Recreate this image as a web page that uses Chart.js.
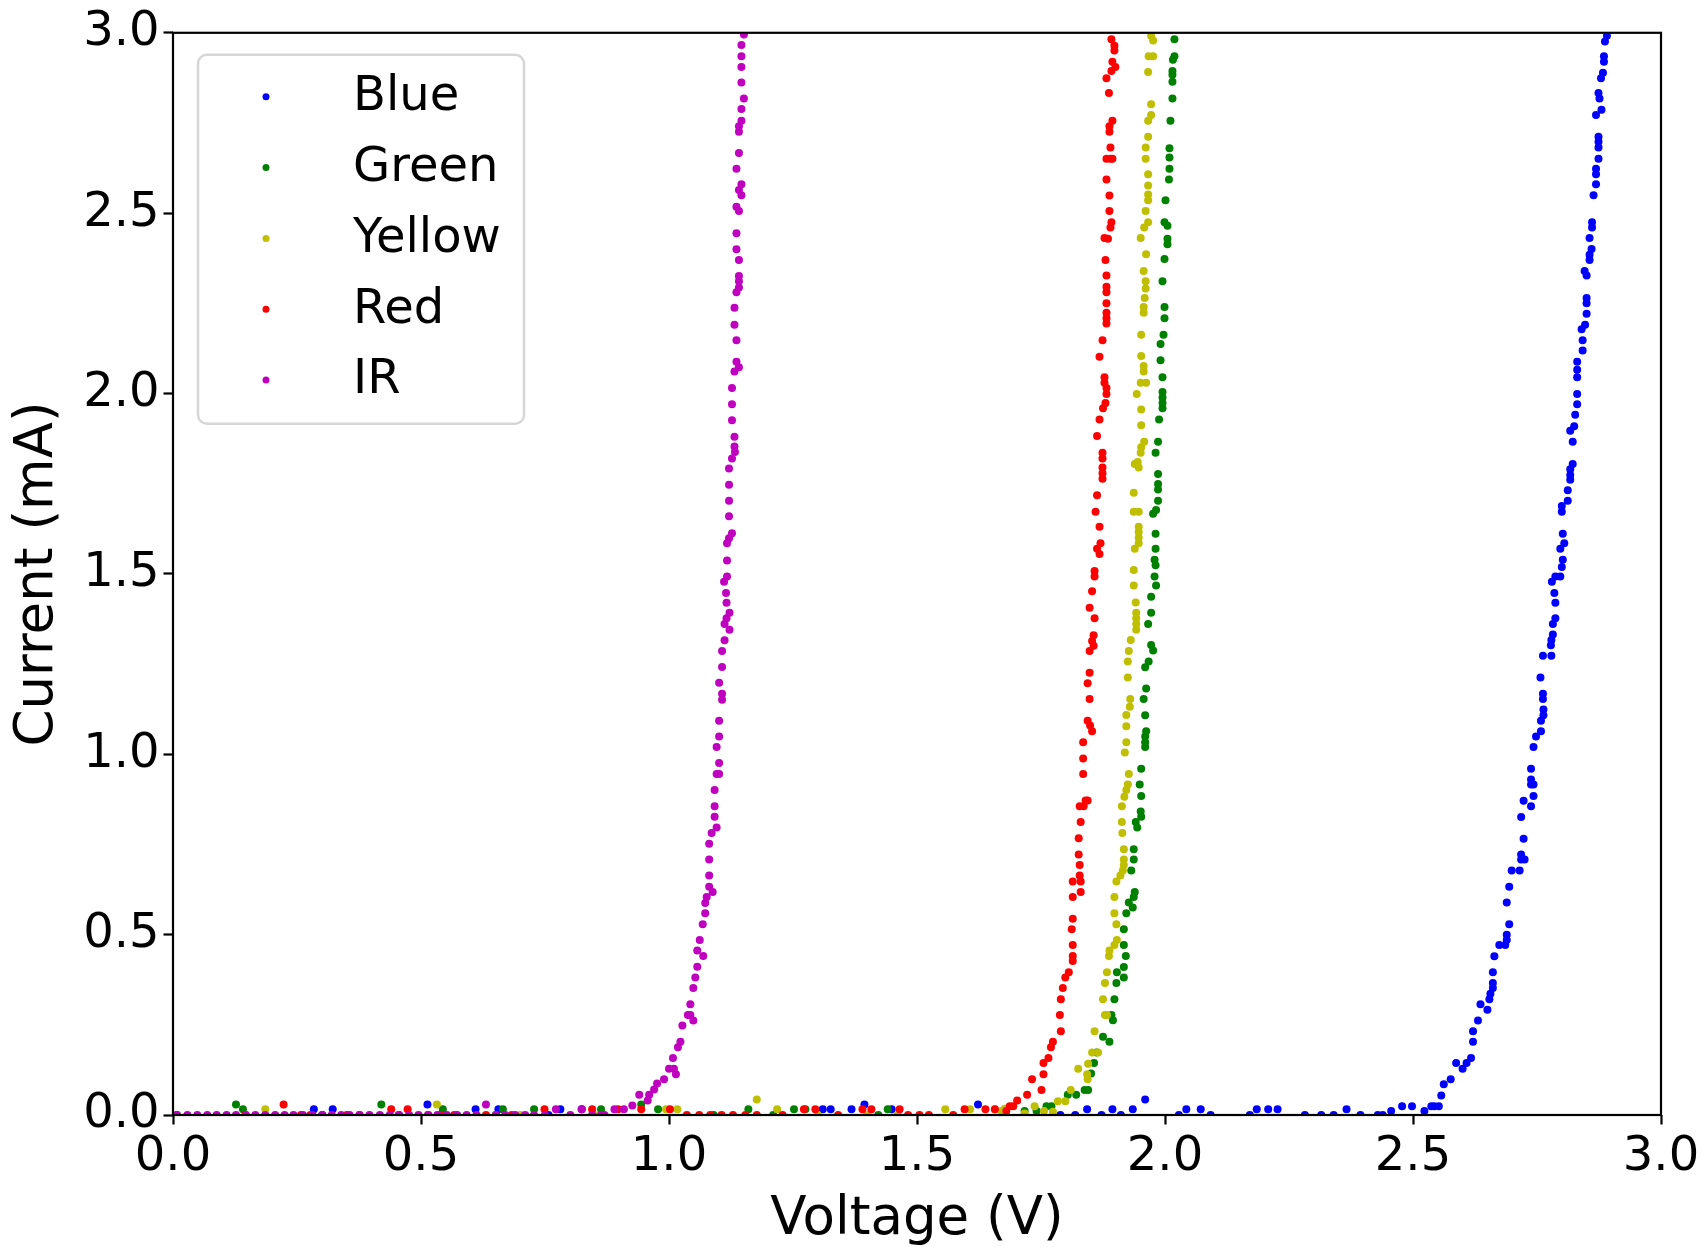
<!DOCTYPE html>
<html>
<head>
<meta charset="utf-8">
<script src="https://cdn.jsdelivr.net/npm/chart.js@4.4.1/dist/chart.umd.min.js"></script>
<style>
  html, body { margin: 0; padding: 0; background: #fff; }
  #wrap { width: 1704px; height: 1247px; }
</style>
</head>
<body>
<div id="wrap"><canvas id="ivChart" width="1704" height="1247"></canvas></div>
<script>
// --- data: [voltage (V), current (mA)] ---
const blueData = [
  [0.284,0.016],[0.301,0],[0.322,0.016],[0.513,0.029],[0.610,0.016],[0.656,0.016],[0.757,0],[0.781,0.016],[0.824,0.016],
  [1.310,0.016],[1.326,0.016],[1.368,0.016],[1.394,0.029],[1.449,0.016],[1.623,0.029],[1.789,0],[1.819,0],[1.843,0.016],
  [1.872,0],[1.894,0.016],[1.911,0],[1.935,0.016],[1.960,0.043],[2.028,0],[2.043,0.016],[2.072,0.016],[2.092,0],[2.171,0],
  [2.185,0.016],[2.208,0.016],[2.227,0.016],[2.282,0],[2.315,0],[2.340,0],[2.366,0.016],[2.394,0],[2.429,0],
  [2.439,0],[2.456,0.011],[2.478,0.024],[2.498,0.024],[2.523,0.011],[2.537,0.024],[2.543,0.024],[2.552,0.024],[2.557,0.054],
  [2.562,0.085],[2.576,0.099],[2.587,0.144],[2.600,0.128],[2.608,0.144],[2.617,0.158],[2.621,0.203],[2.621,0.232],[2.631,0.262],
  [2.636,0.307],[2.650,0.292],[2.654,0.321],[2.656,0.336],[2.661,0.352],[2.661,0.366],[2.661,0.396],[2.664,0.440],[2.674,0.471],
  [2.686,0.471],[2.689,0.485],[2.689,0.500],[2.694,0.529],[2.689,0.589],[2.694,0.633],[2.699,0.678],[2.715,0.678],[2.718,0.708],
  [2.725,0.708],[2.718,0.722],[2.723,0.766],[2.718,0.826],[2.723,0.871],[2.738,0.856],[2.743,0.884],[2.738,0.916],[2.743,0.916],
  [2.738,0.930],[2.738,0.960],[2.743,1.020],[2.748,1.049],[2.758,1.064],[2.758,1.093],[2.763,1.108],[2.763,1.124],[2.762,1.153],
  [2.762,1.168],[2.757,1.213],[2.762,1.273],[2.779,1.273],[2.778,1.302],[2.779,1.317],[2.782,1.332],[2.782,1.361],[2.787,1.377],
  [2.787,1.420],[2.785,1.447],[2.780,1.478],[2.787,1.493],[2.797,1.493],[2.800,1.519],[2.802,1.539],[2.797,1.570],[2.805,1.585],
  [2.802,1.611],[2.800,1.672],[2.800,1.688],[2.812,1.703],[2.812,1.732],[2.817,1.761],[2.817,1.774],[2.817,1.790],[2.822,1.805],
  [2.822,1.866],[2.817,1.897],[2.825,1.909],[2.827,1.941],[2.831,1.970],[2.831,1.999],[2.831,2.045],[2.831,2.066],[2.831,2.088],
  [2.842,2.119],[2.842,2.148],[2.840,2.178],[2.847,2.191],[2.850,2.221],[2.850,2.250],[2.850,2.265],[2.850,2.327],[2.846,2.340],
  [2.856,2.370],[2.856,2.385],[2.860,2.401],[2.856,2.431],[2.861,2.460],[2.861,2.475],[2.864,2.550],[2.869,2.580],[2.869,2.608],
  [2.869,2.623],[2.874,2.651],[2.874,2.682],[2.874,2.698],[2.874,2.712],[2.869,2.772],[2.880,2.787],[2.876,2.818],[2.874,2.833],
  [2.879,2.874],[2.883,2.889],[2.885,2.920],[2.885,2.935],[2.887,2.976],[2.891,2.992]
];

const greenData = [
  [0.008,0],[0.127,0.029],[0.141,0.016],[0.420,0.029],[0.455,0],[0.544,0.016],[0.651,0],[0.665,0.016],[0.728,0.016],
  [0.863,0.016],[0.944,0.029],[0.978,0.016],[1.090,0],[1.160,0.016],[1.210,0],[1.252,0.016],[1.275,0.016],[1.422,0],[1.441,0.016],
  [1.717,0.011],[1.741,0.011],[1.761,0.024],[1.771,0.024],[1.804,0.056],[1.821,0.056],[1.838,0.069],[1.845,0.069],[1.851,0.115],
  [1.857,0.144],[1.862,0.173],[1.875,0.217],[1.888,0.203],[1.892,0.277],[1.895,0.263],[1.898,0.321],[1.902,0.366],[1.903,0.396],
  [1.917,0.381],[1.917,0.410],[1.921,0.441],[1.917,0.471],[1.917,0.515],[1.922,0.559],[1.927,0.589],[1.935,0.575],[1.937,0.604],
  [1.939,0.618],[1.932,0.678],[1.937,0.708],[1.937,0.737],[1.944,0.797],[1.941,0.812],[1.952,0.827],[1.951,0.841],[1.952,0.884],
  [1.949,0.916],[1.952,0.960],[1.960,1.020],[1.960,1.033],[1.960,1.049],[1.962,1.064],[1.960,1.108],[1.957,1.153],[1.962,1.182],
  [1.960,1.241],[1.967,1.257],[1.976,1.288],[1.972,1.303],[1.966,1.361],[1.972,1.392],[1.972,1.437],[1.982,1.468],[1.979,1.493],
  [1.981,1.524],[1.979,1.539],[1.981,1.570],[1.981,1.611],[1.976,1.667],[1.982,1.677],[1.986,1.703],[1.986,1.734],[1.986,1.749],
  [1.986,1.777],[1.981,1.836],[1.986,1.866],[1.988,1.928],[1.995,1.959],[1.995,1.974],[1.995,1.989],[1.995,2.004],[1.995,2.045],
  [1.991,2.092],[1.991,2.137],[1.997,2.163],[1.999,2.209],[1.999,2.240],[1.995,2.311],[1.999,2.373],[2.005,2.414],[2.005,2.429],
  [2.005,2.465],[1.999,2.475],[2.001,2.536],[2.008,2.593],[2.009,2.623],[2.009,2.654],[2.009,2.680],[2.011,2.756],[2.015,2.818],
  [2.015,2.864],[2.015,2.884],[2.015,2.894],[2.016,2.925],[2.019,2.935],[2.019,2.982]
];

const yellowData = [
  [0.186,0.016],[0.350,0],[0.532,0.029],[0.700,0],[0.850,0],[0.994,0.016],[1.017,0.016],[1.177,0.043],[1.218,0.016],
  [1.300,0],[1.400,0],[1.461,0],[1.557,0.016],[1.607,0.016],[1.657,0.016],
  [1.670,0.011],[1.677,0.017],[1.717,0.004],[1.737,0.024],[1.756,0.011],[1.774,0.009],[1.784,0.038],[1.799,0.038],[1.810,0.069],
  [1.825,0.128],[1.843,0.113],[1.845,0.142],[1.844,0.099],[1.853,0.173],[1.858,0.232],[1.865,0.173],[1.875,0.321],[1.879,0.277],
  [1.883,0.277],[1.879,0.366],[1.883,0.396],[1.887,0.441],[1.888,0.456],[1.898,0.471],[1.903,0.485],[1.902,0.529],[1.898,0.559],
  [1.898,0.604],[1.902,0.647],[1.910,0.664],[1.915,0.678],[1.917,0.693],[1.917,0.708],[1.917,0.737],[1.914,0.782],[1.913,0.812],
  [1.913,0.856],[1.918,0.882],[1.922,0.901],[1.925,0.916],[1.927,0.945],[1.919,1.005],[1.922,1.033],[1.922,1.078],[1.922,1.109],
  [1.929,1.132],[1.930,1.153],[1.925,1.213],[1.925,1.257],[1.927,1.286],[1.931,1.317],[1.942,1.345],[1.942,1.361],[1.942,1.377],
  [1.942,1.392],[1.941,1.421],[1.937,1.468],[1.937,1.511],[1.939,1.570],[1.947,1.585],[1.947,1.600],[1.947,1.616],[1.947,1.631],
  [1.937,1.672],[1.947,1.672],[1.937,1.725],[1.947,1.795],[1.939,1.805],[1.945,1.810],[1.951,1.836],[1.952,1.851],[1.958,1.866],
  [1.952,1.912],[1.952,1.956],[1.943,1.999],[1.951,2.030],[1.962,2.030],[1.957,2.061],[1.957,2.076],[1.952,2.104],[1.952,2.163],
  [1.957,2.224],[1.957,2.240],[1.959,2.265],[1.961,2.291],[1.961,2.311],[1.957,2.340],[1.962,2.386],[1.951,2.431],[1.958,2.460],
  [1.966,2.475],[1.961,2.506],[1.966,2.536],[1.966,2.552],[1.966,2.577],[1.966,2.608],[1.961,2.651],[1.961,2.682],[1.966,2.712],
  [1.966,2.756],[1.972,2.772],[1.972,2.802],[1.966,2.891],[1.967,2.935],[1.976,2.935],[1.976,2.979],[1.972,2.992]
];

const redData = [
  [0.146,0],[0.223,0.029],[0.258,0],[0.277,0],[0.351,0],[0.376,0],[0.440,0.016],[0.473,0.016],[0.515,0],[0.538,0],[0.567,0],
  [0.631,0],[0.683,0],[0.749,0.016],[0.845,0.016],[0.897,0.016],[0.944,0.016],[1.002,0.016],[1.036,0],[1.061,0],[1.083,0],
  [1.106,0],[1.129,0],[1.154,0],[1.177,0],[1.229,0],[1.272,0.016],[1.295,0.016],[1.341,0],[1.390,0.016],[1.408,0.016],
  [1.465,0.016],[1.482,0],[1.505,0],[1.524,0],[1.573,0],[1.596,0.016],[1.638,0.016],[1.657,0.016],
  [1.680,0.011],[1.687,0.024],[1.694,0.024],[1.702,0.040],[1.722,0.056],[1.732,0.099],[1.751,0.069],[1.755,0.113],[1.755,0.144],
  [1.765,0.158],[1.770,0.188],[1.774,0.203],[1.790,0.232],[1.788,0.277],[1.790,0.321],[1.794,0.352],[1.799,0.381],[1.806,0.396],
  [1.814,0.427],[1.814,0.441],[1.814,0.471],[1.812,0.515],[1.814,0.544],[1.814,0.604],[1.814,0.647],[1.830,0.618],[1.830,0.647],
  [1.828,0.664],[1.828,0.693],[1.826,0.722],[1.826,0.767],[1.830,0.812],[1.828,0.856],[1.836,0.856],[1.844,0.872],[1.840,0.872],
  [1.835,0.945],[1.835,0.988],[1.835,1.033],[1.853,1.064],[1.849,1.080],[1.844,1.093],[1.848,1.153],[1.844,1.197],[1.848,1.226],
  [1.848,1.286],[1.856,1.301],[1.853,1.314],[1.856,1.330],[1.858,1.377],[1.848,1.406],[1.853,1.452],[1.858,1.493],[1.858,1.508],
  [1.868,1.555],[1.863,1.570],[1.870,1.585],[1.868,1.631],[1.860,1.672],[1.863,1.718],[1.874,1.764],[1.874,1.779],[1.874,1.795],
  [1.874,1.820],[1.874,1.836],[1.863,1.882],[1.868,1.928],[1.875,1.959],[1.880,1.974],[1.882,1.999],[1.882,2.015],[1.878,2.030],
  [1.878,2.045],[1.868,2.102],[1.874,2.148],[1.882,2.194],[1.882,2.209],[1.882,2.224],[1.882,2.250],[1.882,2.281],[1.882,2.296],
  [1.882,2.327],[1.880,2.370],[1.885,2.429],[1.878,2.431],[1.890,2.460],[1.892,2.475],[1.888,2.506],[1.888,2.549],[1.882,2.593],
  [1.890,2.651],[1.882,2.651],[1.894,2.651],[1.890,2.682],[1.888,2.726],[1.888,2.741],[1.894,2.756],[1.887,2.833],[1.882,2.874],
  [1.892,2.894],[1.900,2.905],[1.894,2.920],[1.898,2.951],[1.898,2.964],[1.892,2.982]
];

const irData = [
  [0.008,0],[0.029,0],[0.049,0],[0.069,0],[0.088,0],[0.108,0],[0.127,0],[0.147,0],[0.166,0],[0.186,0],[0.206,0],[0.225,0],
  [0.243,0],[0.262,0],[0.281,0],[0.301,0],[0.320,0],[0.339,0],[0.356,0],[0.376,0],[0.396,0],[0.417,0],[0.437,0],[0.456,0],
  [0.476,0],[0.495,0],[0.514,0],[0.533,0],[0.552,0],[0.573,0],[0.592,0],[0.612,0],[0.631,0.029],[0.651,0],[0.670,0],[0.690,0],
  [0.710,0],[0.728,0],[0.750,0],[0.772,0.016],[0.801,0],[0.824,0.016],[0.845,0],[0.863,0],[0.870,0],[0.890,0.016],[0.909,0.016],
  [0.926,0.026],[0.940,0.056],[0.957,0.040],[0.960,0.056],[0.970,0.071],[0.976,0.087],[0.990,0.099],[1.014,0.113],[1.000,0.128],
  [1.010,0.128],[1.008,0.158],[1.018,0.188],[1.023,0.203],[1.027,0.248],[1.049,0.262],[1.038,0.277],[1.043,0.277],[1.043,0.307],
  [1.049,0.352],[1.053,0.381],[1.057,0.411],[1.069,0.441],[1.057,0.456],[1.062,0.485],[1.068,0.529],[1.073,0.559],[1.073,0.588],
  [1.076,0.604],[1.088,0.618],[1.081,0.633],[1.081,0.664],[1.081,0.708],[1.081,0.752],[1.086,0.782],[1.096,0.797],[1.092,0.827],
  [1.092,0.856],[1.092,0.901],[1.096,0.945],[1.101,0.945],[1.101,0.976],[1.096,1.020],[1.101,1.049],[1.101,1.093],[1.107,1.151],
  [1.107,1.168],[1.101,1.198],[1.107,1.242],[1.107,1.286],[1.112,1.316],[1.122,1.345],[1.112,1.361],[1.116,1.377],[1.122,1.392],
  [1.116,1.420],[1.115,1.447],[1.111,1.478],[1.117,1.493],[1.117,1.537],[1.117,1.585],[1.121,1.599],[1.127,1.613],[1.121,1.660],
  [1.121,1.703],[1.121,1.747],[1.121,1.792],[1.127,1.820],[1.133,1.838],[1.132,1.853],[1.132,1.880],[1.127,1.926],[1.127,1.970],
  [1.127,2.015],[1.132,2.061],[1.141,2.073],[1.136,2.088],[1.136,2.148],[1.132,2.191],[1.132,2.238],[1.136,2.281],[1.141,2.294],
  [1.141,2.311],[1.141,2.326],[1.141,2.370],[1.136,2.400],[1.136,2.444],[1.141,2.506],[1.136,2.518],[1.146,2.550],[1.141,2.564],
  [1.146,2.580],[1.136,2.623],[1.141,2.667],[1.141,2.726],[1.141,2.741],[1.146,2.756],[1.146,2.789],[1.151,2.818],[1.146,2.862],
  [1.146,2.905],[1.146,2.935],[1.146,2.966],[1.151,2.995]
];

const seriesNames = ['Blue', 'Green', 'Yellow', 'Red', 'IR'];
const seriesColors = ['#0000ff', '#008000', '#bfbf00', '#ff0000', '#bf00bf'];
const seriesData = [blueData, greenData, yellowData, redData, irData];
const axisTicks = [0, 0.5, 1.0, 1.5, 2.0, 2.5, 3.0];

Chart.defaults.font.family = '"DejaVu Sans", sans-serif';
Chart.defaults.color = '#000';

// 画框 + 图例 (matplotlib 风格)
const frameLegend = {
  id: 'frameLegend',
  afterDatasetsDraw(chart) {
    const { ctx, chartArea: a } = chart;
    ctx.save();
    ctx.strokeStyle = '#000';
    ctx.lineWidth = 2.2;
    ctx.strokeRect(a.left, a.top, a.right - a.left, a.bottom - a.top);

    // legend box
    const bx = a.left + 25, by = a.top + 22, bw = 326, bh = 369, r = 9;
    ctx.beginPath();
    ctx.roundRect(bx, by, bw, bh, r);
    ctx.fillStyle = 'rgba(255,255,255,0.8)';
    ctx.fill();
    ctx.lineWidth = 2.5;
    ctx.strokeStyle = '#d6d6d6';
    ctx.stroke();

    ctx.font = '48px "DejaVu Sans"';
    ctx.textBaseline = 'middle';
    ctx.textAlign = 'left';
    chart.data.datasets.forEach((ds, i) => {
      const ry = by + 42 + i * 70.8;
      ctx.beginPath();
      ctx.arc(bx + 68, ry, 3.5, 0, Math.PI * 2);
      ctx.fillStyle = ds.backgroundColor;
      ctx.fill();
      ctx.fillStyle = '#000';
      ctx.fillText(ds.label, bx + 155, ry + 1);
    });
    ctx.restore();
  }
};

const ticksCfg = {
  font: { size: 48 },
  padding: 4,
  callback: v => Number(v).toFixed(1)
};
const gridCfg = {
  display: true,
  drawOnChartArea: false,
  drawTicks: true,
  tickLength: 9.5,
  tickWidth: 2.2,
  tickColor: '#000'
};

new Chart(document.getElementById('ivChart'), {
  type: 'scatter',
  data: {
    datasets: seriesData.map((pts, i) => ({
      label: seriesNames[i],
      data: pts.map(p => ({ x: p[0], y: p[1] })),
      backgroundColor: seriesColors[i],
      borderWidth: 0,
      pointRadius: 4,
      pointHoverRadius: 4,
      order: seriesNames.length - i,
      clip: 0
    }))
  },
  options: {
    responsive: false,
    devicePixelRatio: 1,
    animation: false,
    layout: { padding: { top: 30, right: 43, left: 0, bottom: 0 } },
    plugins: { legend: { display: false }, tooltip: { enabled: false } },
    scales: {
      x: {
        type: 'linear',
        min: 0, max: 3,
        afterBuildTicks: s => { s.ticks = axisTicks.map(v => ({ value: v })); },
        ticks: ticksCfg,
        grid: gridCfg,
        border: { display: false },
        title: { display: true, text: 'Voltage (V)', font: { size: 53, lineHeight: 1.0 }, padding: { top: 0, bottom: 0 } },
        afterFit: s => { s.height = 132; }
      },
      y: {
        type: 'linear',
        min: 0, max: 3,
        afterBuildTicks: s => { s.ticks = axisTicks.map(v => ({ value: v })); },
        ticks: ticksCfg,
        grid: gridCfg,
        border: { display: false },
        title: { display: true, text: 'Current (mA)', font: { size: 53 }, padding: { top: 6, bottom: 0 } },
        afterFit: s => { s.width = 173; }
      }
    }
  },
  plugins: [frameLegend]
});
</script>
</body>
</html>
